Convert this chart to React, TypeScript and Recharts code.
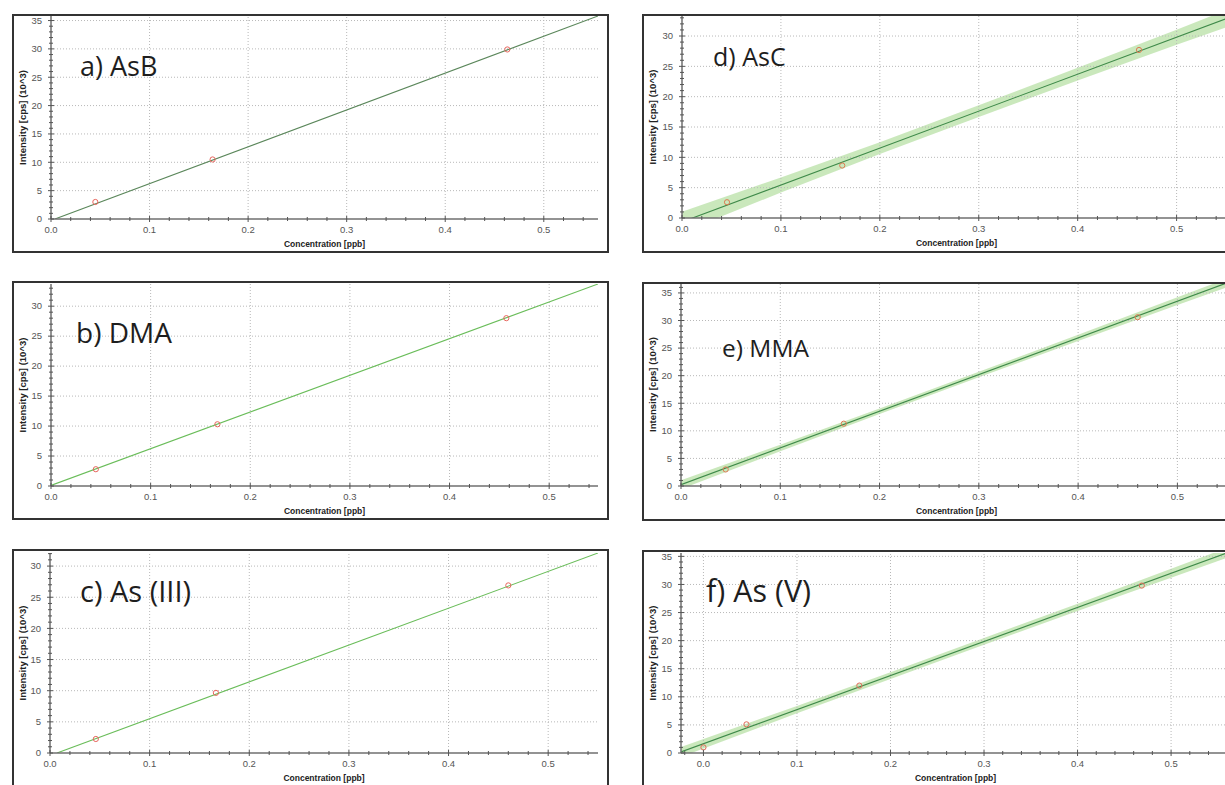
import { Area, ComposedChart, Line, ReferenceLine, Scatter, XAxis, YAxis } from 'recharts'

// axis ticks
const X_MAJOR = [0, 0.1, 0.2, 0.3, 0.4, 0.5]
const X_MINOR = [
  -0.02, 0, 0.02, 0.04, 0.06, 0.08, 0.1, 0.12, 0.14, 0.16, 0.18, 0.2, 0.22, 0.24, 0.26, 0.28, 0.3,
  0.32, 0.34, 0.36, 0.38, 0.4, 0.42, 0.44, 0.46, 0.48, 0.5, 0.52, 0.54, 0.56,
]
const Y_MAJOR = [0, 5, 10, 15, 20, 25, 30, 35]
const Y_MINOR = [
  0, 1, 2, 3, 4, 5, 6, 7, 8, 9, 10, 11, 12, 13, 14, 15, 16, 17, 18, 19, 20, 21, 22, 23, 24, 25, 26,
  27, 28, 29, 30, 31, 32, 33, 34, 35, 36,
]

// a) AsB
const asbConc = [0.045, 0.164, 0.463]
const asbCps = [3.0, 10.5, 29.9]
const asbFitConc = [0.004, 0.555]
const asbFitCps = [0, 35.8]

// b) DMA
const dmaConc = [0.045, 0.167, 0.457]
const dmaCps = [2.8, 10.3, 28.0]
const dmaFitConc = [0, 0.549]
const dmaFitCps = [0.1, 33.7]

// c) As (III)
const as3Conc = [0.046, 0.1665, 0.46]
const as3Cps = [2.25, 9.65, 26.9]
const as3FitConc = [0.007, 0.55]
const as3FitCps = [0, 32.1]

// d) AsC
const ascConc = [0.0455, 0.162, 0.462]
const ascCps = [2.6, 8.65, 27.7]
const ascFitConc = [0, 0.56]
const ascFitCps = [-0.65, 33.45]
const ascBandConc = [0, 0.1, 0.2, 0.3, 0.4, 0.5, 0.56]
const ascBandLow = [-2.35, 4.19, 10.56, 16.67, 22.66, 28.55, 32.0]
const ascBandHigh = [1.05, 6.69, 12.5, 18.57, 24.76, 31.05, 34.9]

// e) MMA
const mmaConc = [0.045, 0.164, 0.46]
const mmaCps = [3.0, 11.3, 30.6]
const mmaFitConc = [0, 0.56]
const mmaFitCps = [0.25, 37.5]
const mmaBandConc = [0, 0.1, 0.2, 0.3, 0.4, 0.5, 0.56]
const mmaBandLow = [-0.55, 6.3, 13.05, 19.7, 26.3, 32.8, 36.69]
const mmaBandHigh = [1.05, 7.5, 14.05, 20.7, 27.4, 34.2, 38.29]

// f) As (V)
const as5Conc = [0.0, 0.046, 0.1667, 0.4687]
const as5Cps = [1.0, 5.1, 12.0, 29.8]
const as5FitConc = [-0.024, 0.563]
const as5FitCps = [0.19, 35.82]
const as5BandConc = [-0.024, 0.1, 0.2, 0.3, 0.4, 0.5, 0.563]
const as5BandLow = [-0.71, 7.07, 13.19, 19.26, 25.28, 31.2, 34.92]
const as5BandHigh = [1.09, 8.37, 14.39, 20.46, 26.58, 32.8, 36.72]

type Panel = {
  title: string
  titleX: number
  titleY: number
  titleSize: number
  box: [number, number, number, number]
  plot: [number, number, number, number]
  xDomain: [number, number]
  yDomain: [number, number]
  conc: number[]
  cps: number[]
  fitConc: number[]
  fitCps: number[]
  bandConc?: number[]
  bandLow?: number[]
  bandHigh?: number[]
  lineColor: string
  markerColor: string
}

const panels: Panel[] = [
  {
    title: 'a) AsB', titleX: 80, titleY: 76, titleSize: 27,
    box: [12, 14, 597, 239], plot: [51, 16, 598, 219],
    xDomain: [0, 0.555], yDomain: [0, 35.8],
    conc: asbConc, cps: asbCps, fitConc: asbFitConc, fitCps: asbFitCps,
    lineColor: '#5b875b', markerColor: '#e8665e',
  },
  {
    title: 'b) DMA', titleX: 76, titleY: 343, titleSize: 28,
    box: [12, 281, 597, 239], plot: [51, 284, 598, 486],
    xDomain: [0, 0.549], yDomain: [0, 33.7],
    conc: dmaConc, cps: dmaCps, fitConc: dmaFitConc, fitCps: dmaFitCps,
    lineColor: '#6abd5a', markerColor: '#e8665e',
  },
  {
    title: 'c) As (III)', titleX: 80, titleY: 602, titleSize: 29,
    box: [12, 549, 597, 239], plot: [50, 553, 598, 753],
    xDomain: [0, 0.55], yDomain: [0, 32.1],
    conc: as3Conc, cps: as3Cps, fitConc: as3FitConc, fitCps: as3FitCps,
    lineColor: '#6abd5a', markerColor: '#e8665e',
  },
  {
    title: 'd) AsC', titleX: 713, titleY: 66, titleSize: 25,
    box: [642, 14, 598, 239], plot: [682, 16, 1231, 218],
    xDomain: [0, 0.555], yDomain: [0, 33.3],
    conc: ascConc, cps: ascCps, fitConc: ascFitConc, fitCps: ascFitCps,
    bandConc: ascBandConc, bandLow: ascBandLow, bandHigh: ascBandHigh,
    lineColor: '#3f8a4a', markerColor: '#dc7a52',
  },
  {
    title: 'e) MMA', titleX: 722, titleY: 357, titleSize: 24.5,
    box: [642, 282, 598, 239], plot: [681, 283, 1232, 486],
    xDomain: [0, 0.555], yDomain: [0, 36.8],
    conc: mmaConc, cps: mmaCps, fitConc: mmaFitConc, fitCps: mmaFitCps,
    bandConc: mmaBandConc, bandLow: mmaBandLow, bandHigh: mmaBandHigh,
    lineColor: '#3f8a4a', markerColor: '#dc7a52',
  },
  {
    title: 'f) As (V)', titleX: 706, titleY: 602, titleSize: 30.5,
    box: [642, 550, 598, 239], plot: [681, 553, 1230, 753],
    xDomain: [-0.024, 0.563], yDomain: [0, 35.6],
    conc: as5Conc, cps: as5Cps, fitConc: as5FitConc, fitCps: as5FitCps,
    bandConc: as5BandConc, bandLow: as5BandLow, bandHigh: as5BandHigh,
    lineColor: '#3f8a4a', markerColor: '#e06a58',
  },
]

const TICK_FONT = '"Liberation Sans", Arial, sans-serif'
const AXIS_COLOR = '#6f6f6f'
const GRID_COLOR = '#b8b8b8'

const isIn = (list: number[], v: number) => list.some((m) => Math.abs(m - v) < 1e-6)

function bottomTick(props: any) {
  const { x, y, payload } = props
  const major = isIn(X_MAJOR, payload.value)
  const len = major ? 3 : 2
  return (
    <g>
      <line x1={x} x2={x} y1={y - len} y2={y + len} stroke="#555" />
      {major && (
        <text x={x} y={y + 14} textAnchor="middle" fontSize={9.5} fontFamily={TICK_FONT} fill="#555">
          {payload.value.toFixed(1)}
        </text>
      )}
    </g>
  )
}

function leftTick(props: any) {
  const { x, y, payload } = props
  const major = isIn(Y_MAJOR, payload.value)
  const len = major ? 3 : 2
  return (
    <g>
      <line x1={x - len} x2={x + len} y1={y} y2={y} stroke="#555" />
      {major && (
        <text x={x - 9} y={y + 3.3} textAnchor="end" fontSize={9.5} fontFamily={TICK_FONT} fill="#555">
          {payload.value}
        </text>
      )}
    </g>
  )
}

function topTick(props: any) {
  const { x, y, payload } = props
  const len = isIn(X_MAJOR, payload.value) ? 3 : 2
  return <line x1={x} x2={x} y1={y} y2={y + len} stroke="#666" />
}

function rightTick(props: any) {
  const { x, y, payload } = props
  const len = isIn(Y_MAJOR, payload.value) ? 3 : 2
  return <line x1={x - len} x2={x} y1={y} y2={y} stroke="#666" />
}

function CalibrationPanel({ p }: { p: Panel }) {
  const [bx, by, bw, bh] = p.box
  const [L, T, R, B] = p.plot
  const points = p.conc.map((c, i) => ({ x: c, y: p.cps[i] }))
  const fit = p.fitConc.map((c, i) => ({ x: c, y: p.fitCps[i] }))
  const band = p.bandConc
    ? p.bandConc.map((c, i) => ({ x: c, band: [p.bandLow![i], p.bandHigh![i]] }))
    : []
  const inX = (v: number) => v >= p.xDomain[0] - 1e-9 && v <= p.xDomain[1] + 1e-9
  const inY = (v: number) => v >= p.yDomain[0] - 1e-9 && v <= p.yDomain[1] + 1e-9
  const xTicks = X_MINOR.filter(inX)
  const yTicks = Y_MINOR.filter(inY)
  const axisLine = { stroke: AXIS_COLOR, strokeWidth: 1.5 }

  return (
    <div style={{ position: 'absolute', left: bx, top: by, width: bw, height: bh, background: '#fff' }}>
      <ComposedChart
        width={bw}
        height={bh}
        data={band}
        margin={{ top: T - by, right: bx + bw - R, bottom: 0, left: 0 }}
      >
        <XAxis
          dataKey="x"
          type="number"
          domain={p.xDomain}
          allowDataOverflow
          ticks={xTicks}
          interval={0}
          tickSize={0}
          tickMargin={0}
          height={by + bh - B}
          axisLine={axisLine}
          tickLine={false}
          tick={bottomTick}
        />
        <XAxis
          xAxisId="top"
          orientation="top"
          dataKey="x"
          type="number"
          domain={p.xDomain}
          allowDataOverflow
          ticks={xTicks}
          interval={0}
          tickSize={0}
          tickMargin={0}
          height={0}
          axisLine={{ stroke: '#8a8a8a', strokeWidth: 1 }}
          tickLine={false}
          tick={topTick}
        />
        <YAxis
          type="number"
          domain={p.yDomain}
          allowDataOverflow
          ticks={yTicks}
          interval={0}
          tickSize={0}
          tickMargin={0}
          width={L - bx}
          axisLine={axisLine}
          tickLine={false}
          tick={leftTick}
        />
        <YAxis
          yAxisId="right"
          orientation="right"
          type="number"
          domain={p.yDomain}
          allowDataOverflow
          ticks={yTicks}
          interval={0}
          tickSize={0}
          tickMargin={0}
          width={0}
          axisLine={{ stroke: '#8a8a8a', strokeWidth: 1 }}
          tickLine={false}
          tick={rightTick}
        />
        {X_MAJOR.filter((v) => inX(v) && v > p.xDomain[0]).map((v) => (
          <ReferenceLine key={'gx' + v} x={v} stroke={GRID_COLOR} strokeDasharray="1 2" />
        ))}
        {Y_MAJOR.filter((v) => inY(v) && v > p.yDomain[0]).map((v) => (
          <ReferenceLine key={'gy' + v} y={v} stroke={GRID_COLOR} strokeDasharray="1 2" />
        ))}
        <Scatter
          data={points}
          dataKey="y"
          isAnimationActive={false}
          shape={(s: any) => (
            <circle cx={s.cx} cy={s.cy} r={2.6} fill="none" stroke={p.markerColor} strokeWidth={1} />
          )}
        />
        {band.length > 0 && (
          <Area
            dataKey="band"
            type="linear"
            stroke="none"
            fill="#9ed685"
            fillOpacity={0.55}
            isAnimationActive={false}
          />
        )}
        <Line
          data={fit}
          dataKey="y"
          type="linear"
          stroke={p.lineColor}
          strokeWidth={1.1}
          dot={false}
          activeDot={false}
          isAnimationActive={false}
        />
      </ComposedChart>
      <svg
        width={bw}
        height={bh}
        style={{ position: 'absolute', left: 0, top: 0, pointerEvents: 'none' }}
      >
        <text
          x={p.titleX - bx}
          y={p.titleY - by}
          fontSize={p.titleSize}
          fontFamily='"Open Sans", sans-serif'
          fill="#1e1e1e"
        >
          {p.title}
        </text>
        <text
          x={10.8}
          y={(T + B) / 2 - by}
          transform={`rotate(-90, 10.8, ${(T + B) / 2 - by})`}
          textAnchor="middle"
          dominantBaseline="central"
          fontSize={9.5}
          fontWeight="bold"
          fontFamily={TICK_FONT}
          fill="#222"
        >
          Intensity [cps] (10^3)
        </text>
        <text
          x={(L + R) / 2 - bx}
          y={B + 28 - by}
          textAnchor="middle"
          fontSize={8.5}
          fontWeight="bold"
          fontFamily={TICK_FONT}
          fill="#222"
        >
          Concentration [ppb]
        </text>
      </svg>
      <div
        style={{
          position: 'absolute',
          left: 0,
          top: 0,
          width: bw,
          height: bh,
          boxSizing: 'border-box',
          border: '2px solid #333',
          pointerEvents: 'none',
        }}
      />
    </div>
  )
}

export default function App() {
  return (
    <div
      style={{
        position: 'absolute',
        left: 0,
        top: 0,
        width: 1225,
        height: 785,
        overflow: 'hidden',
        background: '#fff',
      }}
    >
      {panels.map((p) => (
        <CalibrationPanel key={p.title} p={p} />
      ))}
    </div>
  )
}
